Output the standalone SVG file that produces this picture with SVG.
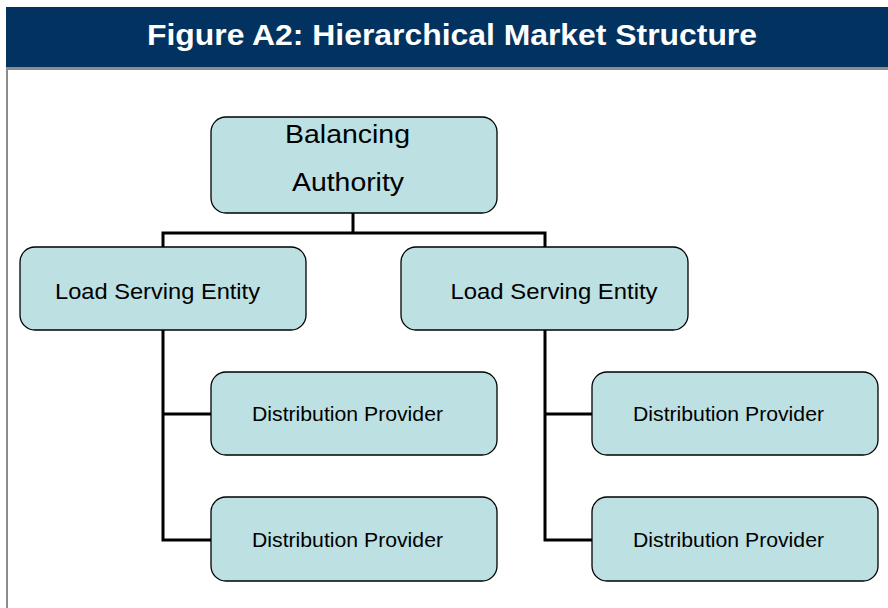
<svg xmlns="http://www.w3.org/2000/svg" width="888" height="608" viewBox="0 0 888 608">
<style>
.box{fill:#bde0e2;stroke:#000;stroke-width:1.3}
.lbl{font-family:"Liberation Sans",Arial,sans-serif;fill:#000;text-anchor:middle}
.conn{fill:none;stroke:#000;stroke-width:3;stroke-linejoin:miter}
</style>
<rect x="0" y="0" width="888" height="608" fill="#fff"/>
<g id="header">
<rect x="6" y="7" width="882" height="61" fill="#02325f"/>
<rect x="6" y="67" width="882" height="3" fill="#8c8c8c"/>
<rect x="6" y="67" width="2" height="541" fill="#8c8c8c"/>
<text x="452" y="45" font-family="Liberation Sans, Arial, sans-serif" font-weight="bold" font-size="29" fill="#fff" text-anchor="middle" textLength="610" lengthAdjust="spacingAndGlyphs">Figure A2: Hierarchical Market Structure</text>
</g>
<g id="connectors">
<path class="conn" d="M353 213V233M163 247V233H545V247"/>
<path class="conn" d="M163 330V540H211M163 414H211"/>
<path class="conn" d="M545 330V540H592M545 414H592"/>
</g>
<g id="ba">
<rect class="box" x="211" y="117" width="286" height="96" rx="15"/>
<text class="lbl" x="347.5" y="143" font-size="26" textLength="125" lengthAdjust="spacingAndGlyphs">Balancing</text>
<text class="lbl" x="348" y="191" font-size="26" textLength="112" lengthAdjust="spacingAndGlyphs">Authority</text>
</g>
<g id="lse1">
<rect class="box" x="20" y="247" width="286" height="83" rx="15"/>
<text class="lbl" x="157.5" y="299" font-size="22" textLength="205" lengthAdjust="spacingAndGlyphs">Load Serving Entity</text>
</g>
<g id="lse2">
<rect class="box" x="401" y="247" width="287" height="83" rx="15"/>
<text class="lbl" x="554" y="299" font-size="22" textLength="207" lengthAdjust="spacingAndGlyphs">Load Serving Entity</text>
</g>
<g id="dp1">
<rect class="box" x="211" y="372" width="286" height="83" rx="15"/>
<text class="lbl" x="347.5" y="421" font-size="21" textLength="191" lengthAdjust="spacingAndGlyphs">Distribution Provider</text>
</g>
<g id="dp2">
<rect class="box" x="211" y="497" width="286" height="84" rx="15"/>
<text class="lbl" x="347.5" y="547" font-size="21" textLength="191" lengthAdjust="spacingAndGlyphs">Distribution Provider</text>
</g>
<g id="dp3">
<rect class="box" x="592" y="372" width="286" height="83" rx="15"/>
<text class="lbl" x="728.5" y="421" font-size="21" textLength="191" lengthAdjust="spacingAndGlyphs">Distribution Provider</text>
</g>
<g id="dp4">
<rect class="box" x="592" y="497" width="286" height="84" rx="15"/>
<text class="lbl" x="728.5" y="547" font-size="21" textLength="191" lengthAdjust="spacingAndGlyphs">Distribution Provider</text>
</g>
</svg>
